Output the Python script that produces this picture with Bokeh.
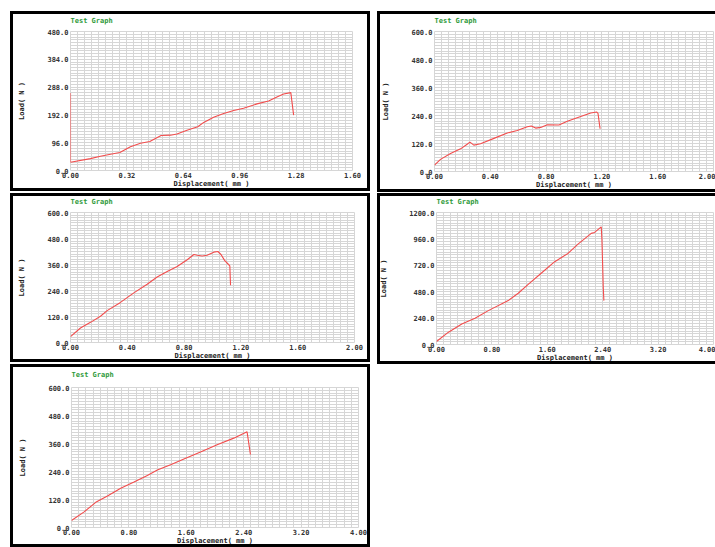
from bokeh.plotting import figure
from bokeh.layouts import row, column
from bokeh.models import Range1d, FixedTicker, NumeralTickFormatter
from bokeh.embed import file_html
from bokeh.resources import INLINE

# ---- data (displacement mm, load N) ----
p1_x = [0.0, 0.113, 0.17, 0.227, 0.28, 0.34, 0.397, 0.45, 0.514, 0.567, 0.604, 0.661, 0.722, 0.756,
        0.812, 0.869, 0.926, 0.982, 1.058, 1.124, 1.171, 1.209, 1.25, 1.266]
p1_y = [28.6, 41, 49, 56, 62, 82, 94, 100, 121, 122, 126, 139, 151, 166,
        184, 197, 207, 215, 230, 240, 254, 264, 269, 191]
p1_mark_x = [0.0, 0.0]
p1_mark_y = [28, 268]

p2_x = [0.0, 0.043, 0.115, 0.187, 0.234, 0.254, 0.282, 0.33, 0.426, 0.522, 0.593, 0.665, 0.694,
        0.725, 0.761, 0.809, 0.892, 0.952, 1.048, 1.12, 1.163, 1.172, 1.187]
p2_y = [27, 52, 77, 97, 117, 126, 113, 119, 142, 165, 176, 192, 195,
        186, 189, 200, 199, 215, 236, 251, 255, 249, 183]

p3_x = [0.0, 0.07, 0.141, 0.211, 0.258, 0.352, 0.446, 0.54, 0.61, 0.681, 0.751, 0.822, 0.869,
        0.892, 0.927, 0.962, 1.009, 1.038, 1.061, 1.085, 1.113, 1.122, 1.127]
p3_y = [27, 67, 93, 121, 147, 185, 229, 269, 302, 328, 351, 382, 406,
        403, 399, 403, 417, 420, 405, 379, 360, 354, 264]

p4_x = [0.0, 0.173, 0.365, 0.556, 0.748, 1.036, 1.18, 1.324, 1.516, 1.707, 1.899, 2.043, 2.235,
        2.283, 2.379, 2.389, 2.398, 2.408, 2.417]
p4_y = [27, 112, 187, 239, 308, 399, 466, 547, 650, 753, 828, 913, 1010,
        1019, 1070, 949, 747, 520, 399]

p5_x = [0.0, 0.176, 0.338, 0.501, 0.686, 0.871, 1.057, 1.196, 1.381, 1.567, 1.798, 2.03, 2.262,
        2.447, 2.494]
p5_y = [30, 67, 108, 135, 168, 195, 223, 246, 269, 294, 324, 355, 383, 410, 313]

# axis settings: (x max, x label step, y max, y label step)
p1_axes = (1.6, 0.32, 480, 96)
p2_axes = (2.0, 0.40, 600, 120)
p3_axes = (2.0, 0.40, 600, 120)
p4_axes = (4.0, 0.80, 1200, 240)
p5_axes = (4.0, 0.80, 600, 120)

title_text = "Test Graph"
x_label = "Displacement( mm )"
y_label = "Load( N )"

FONT = "DejaVu Sans Mono"
RED = "#f24d4d"
GRID = "#d6d6d6"

FULL_BOX = "inset 3px 0 0 #000, inset -3px 0 0 #000, inset 0 3px 0 #000, inset 0 -3px 0 #000"
OPEN_BOX = "inset 3px 0 0 #000, inset 0 3px 0 #000, inset 0 -3px 0 #000"


def panel(w, h, margin, axes, lb, rb, tb, bb, shadow, series, extra=None, tstand=10):
    xmax, xstep, ymax, ystep = axes
    p = figure(width=w, height=h, output_backend="svg", toolbar_location=None,
               x_range=Range1d(0, xmax), y_range=Range1d(0, ymax),
               min_border_left=lb, min_border_right=rb, min_border_top=tb, min_border_bottom=bb,
               title=title_text, margin=margin)
    p.styles = {"box-shadow": shadow, "background-color": "white"}
    p.border_fill_color = None
    p.background_fill_color = "white"

    p.title.text_font = FONT
    p.title.text_font_size = "7px"
    p.title.text_font_style = "bold"
    p.title.text_color = "#2f9a3a"
    p.title.align = "left"
    p.title.standoff = tstand
    p.title.vertical_align = "top"
    p.title.offset = 0

    nx = int(round(xmax / xstep))
    ny = int(round(ymax / ystep))
    p.xaxis.ticker = FixedTicker(ticks=[i * xstep for i in range(nx + 1)])
    p.yaxis.ticker = FixedTicker(ticks=[i * ystep for i in range(ny + 1)])
    p.xgrid.ticker = FixedTicker(ticks=[i * xmax / 40 for i in range(41)])
    p.ygrid.ticker = FixedTicker(ticks=[i * ymax / 50 for i in range(51)])
    p.xaxis.formatter = NumeralTickFormatter(format="0.00")
    p.yaxis.formatter = NumeralTickFormatter(format="0.0")
    for g in (p.xgrid, p.ygrid):
        g.grid_line_color = GRID
        g.grid_line_width = 1
    p.outline_line_color = GRID

    for ax in (p.xaxis, p.yaxis):
        ax.axis_line_color = None
        ax.major_tick_line_color = None
        ax.minor_tick_line_color = None
        ax.major_tick_out = 0
        ax.major_tick_in = 0
        ax.major_label_text_font = FONT
        ax.major_label_text_font_size = "7px"
        ax.major_label_text_font_style = "bold"
        ax.major_label_text_color = "#333333"
        ax.axis_label_text_font = FONT
        ax.axis_label_text_font_size = "7px"
        ax.axis_label_text_font_style = "bold"
        ax.axis_label_text_color = "#222222"
    p.xaxis.axis_label = x_label
    p.yaxis.axis_label = y_label
    p.xaxis.major_label_standoff = 1
    p.xaxis.axis_label_standoff = -1
    p.yaxis.major_label_standoff = 2
    p.yaxis.axis_label_standoff = 18

    xs, ys = series
    p.line(xs, ys, line_color=RED, line_width=1.1)
    if extra is not None:
        p.line(extra[0], extra[1], line_color=RED, line_width=1.1)
    return p


p1 = panel(360, 180, (11, 0, 0, 10), p1_axes, 60, 18, 20, 20, FULL_BOX, (p1_x, p1_y), (p1_mark_x, p1_mark_y), tstand=10)
p2 = panel(338, 181, (11, 0, 0, 7), p2_axes, 57, 2, 20, 21, OPEN_BOX, (p2_x, p2_y), tstand=10)
p3 = panel(360, 169, (1, 0, 0, 10), p3_axes, 60, 16, 19, 19, FULL_BOX, (p3_x, p3_y), tstand=9)
p4 = panel(338, 171, (1, 0, 0, 7), p4_axes, 58, 2, 19, 20, OPEN_BOX, (p4_x, p4_y), tstand=9)
p5 = panel(360, 183, (0, 0, 0, 10), p5_axes, 61, 12, 23, 14, FULL_BOX, (p5_x, p5_y), tstand=13)

layout = column(row(p1, p2), row(p3, p4), p5)

open("out.html", "w").write(file_html(layout, INLINE))
